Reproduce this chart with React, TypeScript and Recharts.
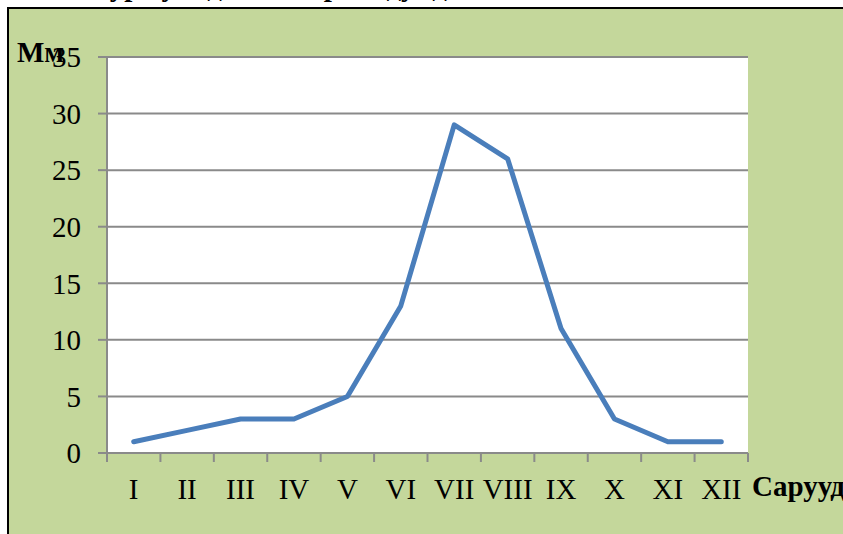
import React from 'react';
import { LineChart, Line, XAxis, YAxis, CartesianGrid } from 'recharts';

const months = ['I', 'II', 'III', 'IV', 'V', 'VI', 'VII', 'VIII', 'IX', 'X', 'XI', 'XII'];
const precipitation = [1, 2, 3, 3, 5, 13, 29, 26, 11, 3, 1, 1];
const yTicks = [0, 5, 10, 15, 20, 25, 30, 35];
const yLabel = 'Мм';
const xLabel = 'Сарууд';
const title = 'Хур тунадасны сарын дундаж хэмжээ';

const data = months.map((m, i) => ({ x: i + 0.5, month: m, value: precipitation[i] }));
const boundaryTicks = months.map((_, i) => i).concat(months.length);

const FONT = '"Liberation Serif", "Times New Roman", serif';
const GRAY = '#8a8a8a';

const MonthTick = (props: any) => {
  const { x, y, index, width } = props;
  if (index >= months.length) return <g />;
  const half = width / months.length / 2;
  return (
    <text x={x + half} y={y} dy="0.71em" textAnchor="middle" fill="#000" fontSize={29} fontFamily={FONT}>
      {months[index]}
    </text>
  );
};

export default function App() {
  return (
    <div style={{ position: 'absolute', left: 0, top: 0, width: 843, height: 534, background: '#fff', overflow: 'hidden' }}>
      <div style={{ position: 'absolute', left: 90, top: -30, height: 36, overflow: 'hidden', fontFamily: FONT, fontWeight: 'bold', fontSize: 29, whiteSpace: 'nowrap', color: '#000' }}>
        <div>{title}</div>
      </div>
      <div style={{ position: 'absolute', left: 7, top: 7, width: 836, height: 527, background: '#C4D79B', borderLeft: '2px solid #000', borderTop: '2px solid #000', boxSizing: 'border-box' }} />
      <div style={{ position: 'absolute', left: 0, top: 0 }}>
        <LineChart width={843} height={534} data={data} margin={{ top: 57, right: 95, bottom: 0, left: 0 }}>
          <CartesianGrid horizontal vertical={false} fill="#fff" stroke={GRAY} strokeWidth={2} />
          <XAxis
            type="number"
            dataKey="x"
            domain={[0, months.length]}
            ticks={boundaryTicks}
            tick={MonthTick}
            height={81}
            tickSize={9}
            tickMargin={16}
            stroke={GRAY}
            strokeWidth={2}
            interval={0}
            allowDataOverflow
          />
          <YAxis
            type="number"
            domain={[0, 35]}
            ticks={yTicks}
            width={107}
            tickSize={9}
            tickMargin={17}
            stroke={GRAY}
            strokeWidth={2}
            interval={0}
            tick={{ fill: '#000', fontSize: 29, fontFamily: FONT }}
          />
          <Line
            type="linear"
            dataKey="value"
            stroke="#4A7EBB"
            strokeWidth={5}
            strokeLinecap="round"
            strokeLinejoin="round"
            dot={false}
            activeDot={false}
            isAnimationActive={false}
          />
        </LineChart>
      </div>
      <svg width={843} height={534} style={{ position: 'absolute', left: 0, top: 0, pointerEvents: 'none' }}>
        <text x={17} y={62} fontFamily={FONT} fontWeight="bold" fontSize={29} fill="#000">{yLabel}</text>
        <text x={752} y={496} fontFamily={FONT} fontWeight="bold" fontSize={29} fill="#000">{xLabel}</text>
      </svg>
    </div>
  );
}
